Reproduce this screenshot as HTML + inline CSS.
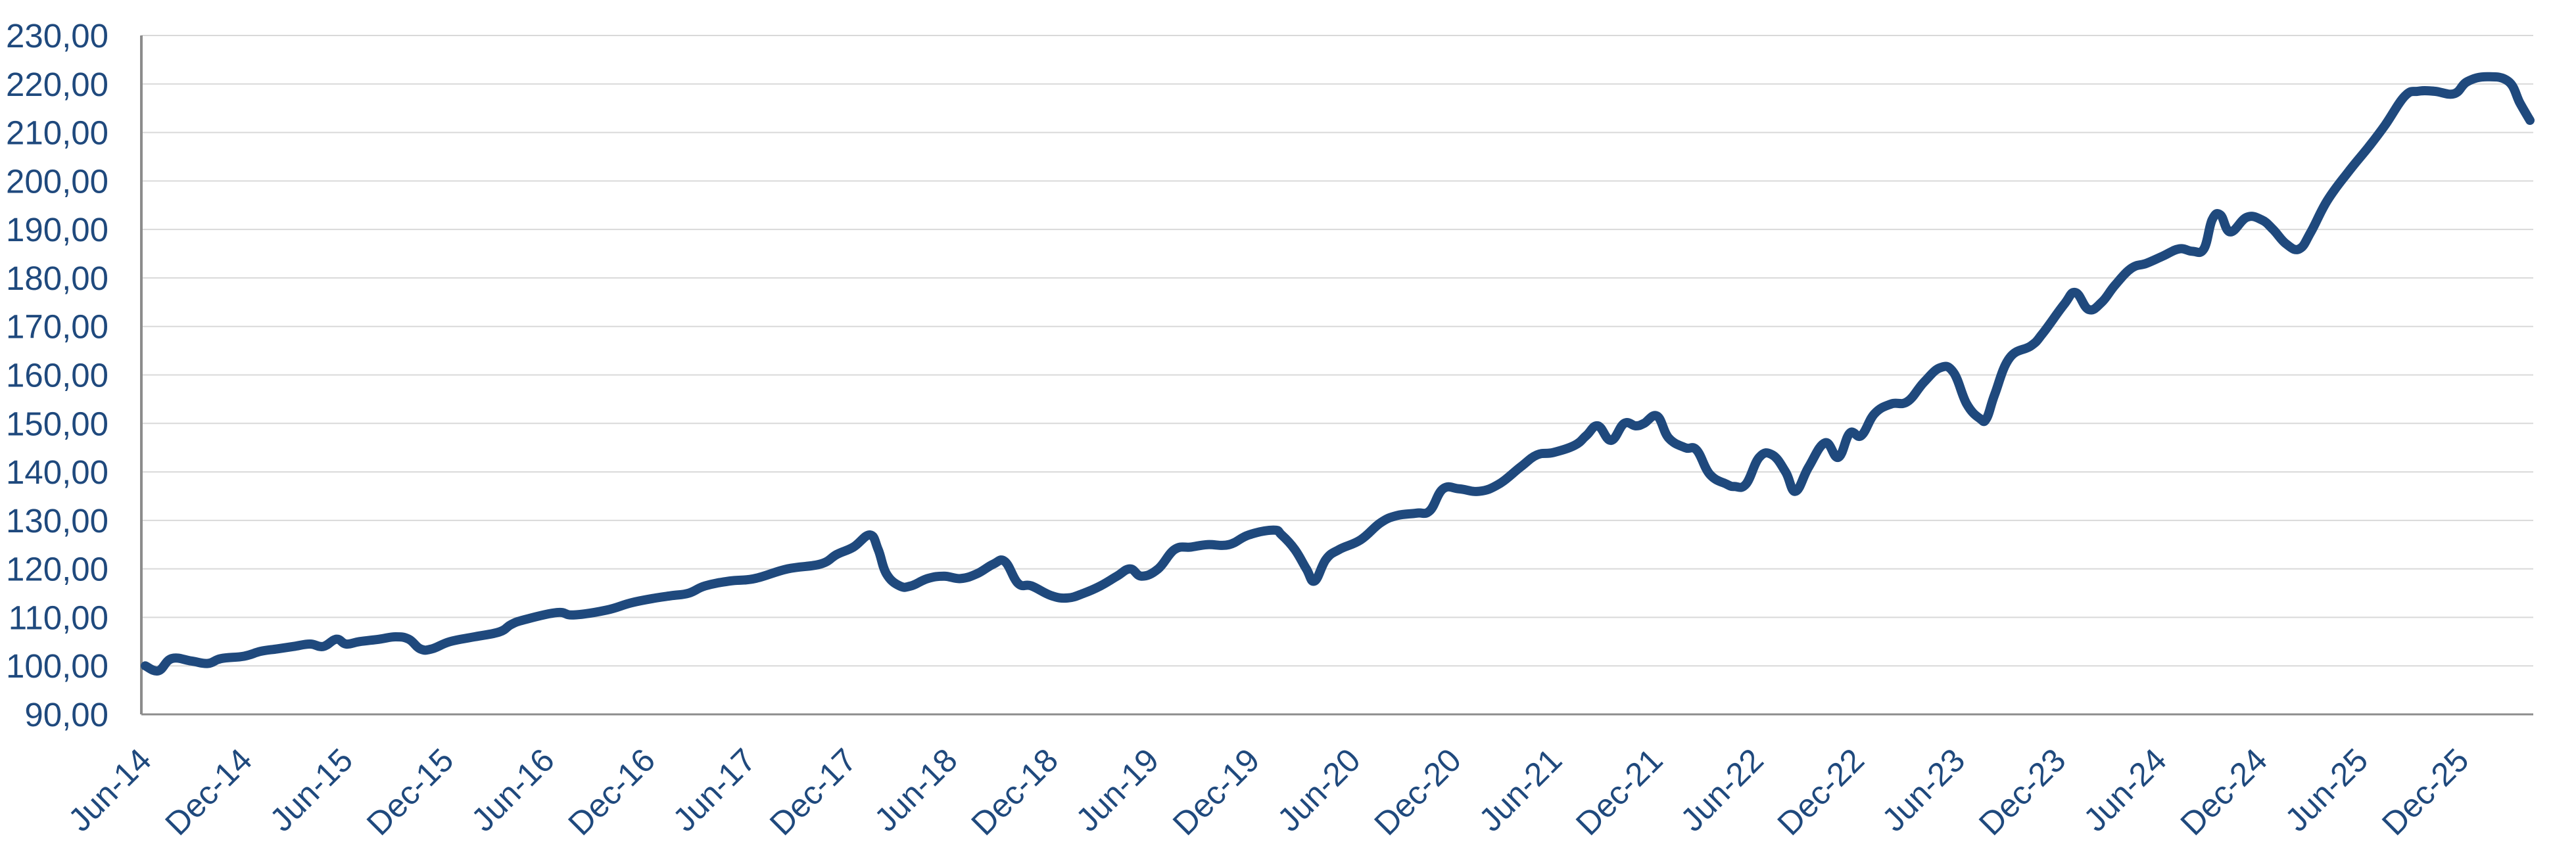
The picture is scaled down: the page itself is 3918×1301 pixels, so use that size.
<!DOCTYPE html>
<html><head><meta charset="utf-8"><style>
html,body{margin:0;padding:0;background:#fff;}
svg{display:block;}
text{font-family:"Liberation Sans",sans-serif;fill:#1f497d;}
</style></head><body>
<svg id="c" width="3918" height="1301" xmlns="http://www.w3.org/2000/svg"></svg>
<script>
(function(){
const svg=document.getElementById('c');
const NS='http://www.w3.org/2000/svg';
function el(t,a,txt){const e=document.createElementNS(NS,t);for(const k in a)e.setAttribute(k,a[k]);if(txt!==undefined)e.textContent=txt;svg.appendChild(e);return e;}
const yTop=54,yBot=1087,xL=215,xR=3853;
const yv=v=>yTop+(230-v)*(yBot-yTop)/140;
for(let v=90;v<=230;v+=10){
  const y=yv(v);
  if(v>90)el('line',{x1:xL,x2:xR,y1:y,y2:y,stroke:'#d9d9d9','stroke-width':2});
  el('text',{x:165,y:y+18,'text-anchor':'end','font-size':51},v+',00');
}
el('line',{x1:xL,x2:xR,y1:yBot,y2:yBot,stroke:'#8c8c8c','stroke-width':3});
el('line',{x1:xL,x2:xL,y1:yTop,y2:yBot,stroke:'#8c8c8c','stroke-width':4});
const labs=['Jun-14','Dec-14','Jun-15','Dec-15','Jun-16','Dec-16','Jun-17','Dec-17','Jun-18','Dec-18','Jun-19','Dec-19','Jun-20','Dec-20','Jun-21','Dec-21','Jun-22','Dec-22','Jun-23','Dec-23','Jun-24','Dec-24','Jun-25','Dec-25'];
const pm=(3848-221)/142;
labs.forEach((s,i)=>{const x=221+i*6*pm+12,y=1160;
 el('text',{x:x,y:y,'text-anchor':'end','font-size':50,transform:`rotate(-45 ${x} ${y})`},s);});
const d=[90,100,98,99,106,101.5,118,101,128,100.5,136,101.5,150,102,160,103,170,103.5,180,104,190,104.5,198,104,206,105.5,212,104.5,220,105,232,105.5,242,106,250,105.5,257,103.5,264,103.5,275,105,290,106,305,107,312,108.5,320,109.5,340,111,350,110.5,370,111.5,385,113,400,114,410,114.5,420,115,430,116.5,445,117.5,460,118,480,120,500,121,510,123,520,124.5,530,127,535,124,540,119,548,116.5,555,116.5,565,118,575,118.5,585,118,595,119,605,121,612,121.5,620,117,628,116.5,640,114.5,650,114,660,115,670,116.5,680,118.5,688,120,695,118.5,705,120,715,124,725,124.5,735,125,748,125,760,127,775,128,780,127,788,124,795,120,800,117.5,807,122,815,124,828,126,840,129.5,850,131,862,131.5,870,132,878,136.5,888,136.5,900,136,912,137.5,925,141,935,143.5,945,144,958,145.5,965,147.5,972,149.5,980,146.5,988,150,995,149.5,1000,150,1008,151.5,1015,147,1025,145,1032,144.5,1040,139.5,1050,137.5,1055,137,1062,137.5,1070,143,1078,143.5,1086,140,1092,136,1100,141,1110,146,1118,143,1125,148,1132,147.5,1140,152,1150,154,1160,154.5,1170,158.5,1180,161.5,1188,160.5,1196,154,1204,151,1208,151,1213,156,1222,163.5,1235,166,1242,168.5,1255,174.5,1262,177,1270,173.5,1278,175,1286,178.5,1296,182,1305,183,1315,184.5,1325,186,1333,185.5,1340,186,1345,192,1350,193,1356,189.5,1366,192.5,1375,192,1382,190,1390,187,1398,186,1405,189.5,1415,196,1428,202,1440,207,1450,211.5,1462,217.5,1470,218.5,1480,218.5,1492,218,1500,220.5,1512,221.5,1525,220.5,1532,216,1538,212.5];
const P=[];for(let i=0;i<d.length;i+=2)P.push([221+(d[i]-90)*(3848-221)/(1538-90),yv(d[i+1])]);
let p=`M${P[0][0]},${P[0][1]}`;
for(let i=0;i<P.length-1;i++){const a=P[Math.max(0,i-1)],b=P[i],c=P[i+1],e=P[Math.min(P.length-1,i+2)];
 const t=0.2;
 p+=` C${b[0]+(c[0]-a[0])*t},${b[1]+(c[1]-a[1])*t} ${c[0]-(e[0]-b[0])*t},${c[1]-(e[1]-b[1])*t} ${c[0]},${c[1]}`;}
el('path',{d:p,fill:'none',stroke:'#1f497d','stroke-width':14,'stroke-linejoin':'round','stroke-linecap':'round'});
})();
</script>
</body></html>
